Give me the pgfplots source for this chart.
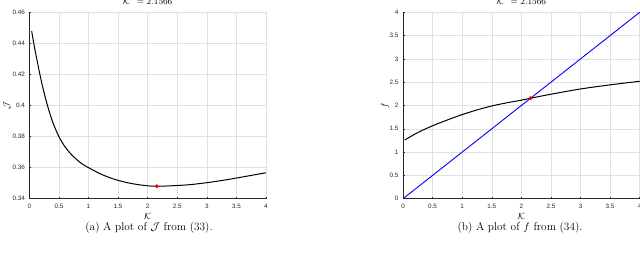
\documentclass[border=0pt]{standalone}
\usepackage{fontspec}
\usepackage{pgfplots}
\pgfplotsset{compat=1.18}
\newfontfamily\helv{Liberation Sans}
\definecolor{axgray}{gray}{0.15}
\definecolor{gridgray}{gray}{0.88}
\pgfplotsset{
  mystyle/.style={
    scale only axis, width=236.7pt, height=186.4pt,
    anchor=south west,
    axis x line*=bottom, axis y line*=left,
    axis line style={axgray, line width=0.6pt},
    tick align=inside, major tick length=2pt,
    tick style={axgray, line width=0.5pt},
    grid=major, major grid style={gridgray, line width=0.5pt},
    tick label style={font=\helv\fontsize{6.3}{7}\selectfont, text=axgray},
    /pgf/number format/assume math mode=true,
    xmin=0, xmax=4, xtick={0,0.5,...,4},
    xticklabel style={yshift=-2pt},
    yticklabel style={xshift=-1pt},
    label style={font=\small},
    title style={font=\small, at={(0.5,1)}, anchor=south, yshift=-1.5pt},
    clip=false,
  }
}
\begin{document}
\begin{tikzpicture}[x=1pt,y=1pt]
\path[use as bounding box] (0,0) rectangle (640,255);
\begin{axis}[mystyle, at={(29.3pt,56.3pt)},
  ymin=0.34, ymax=0.46, ytick={0.34,0.36,...,0.46},
  yticklabel style={/pgf/number format/fixed, /pgf/number format/precision=2},
  title={$\mathcal{K}^* = 2.1566$},
  xlabel={$\mathcal{K}$}, ylabel={$\mathcal{J}$},
  xlabel style={at={(axis description cs:0.5,-0.093)}, anchor=center},
  ylabel style={at={(axis description cs:-0.094,0.5)}, anchor=center},
]
\addplot[black, line width=1pt, smooth] coordinates {
(0.04,0.4478) (0.1,0.4350) (0.2,0.4163) (0.3,0.4009) (0.4,0.3889)
(0.5,0.3800) (0.6,0.3736) (0.7,0.3689) (0.8,0.3652) (0.9,0.3622)
(1.0,0.3600) (1.2,0.3560) (1.4,0.3530) (1.6,0.3508) (1.8,0.3493)
(2.0,0.3483) (2.1566,0.3480) (2.4,0.3483) (2.7,0.3490) (3.0,0.3503)
(3.25,0.3517) (3.5,0.3533) (3.75,0.3550) (4.0,0.3567)
};
\addplot[only marks, mark=*, red, mark size=1.8pt] coordinates {(2.1566,0.3480)};
\end{axis}
\begin{axis}[mystyle, at={(403pt,56.3pt)},
  ymin=0, ymax=4, ytick={0,0.5,...,4},
  title={$\mathcal{K}^* = 2.1566$},
  xlabel={$\mathcal{K}$}, ylabel={$f$},
  xlabel style={at={(axis description cs:0.5,-0.093)}, anchor=center},
  ylabel style={at={(axis description cs:-0.076,0.5)}, anchor=center},
]
\addplot[blue, line width=0.9pt] coordinates {(0,0) (4,4)};
\addplot[black, line width=1pt, smooth] coordinates {
(0.03,1.26) (0.25,1.42) (0.5,1.565) (0.75,1.69) (1.0,1.805) (1.25,1.905)
(1.5,1.99) (1.75,2.057) (2.0,2.114) (2.1566,2.1566) (2.5,2.242) (3.0,2.355)
(3.5,2.443) (4.0,2.52)
};
\addplot[only marks, mark=*, red, mark size=1.8pt] coordinates {(2.1566,2.1566)};
\end{axis}
\node[font=\fontsize{11.3}{13}\selectfont] at (149,27) {(a) A plot of $\mathcal{J}$ from (33).};
\node[font=\fontsize{11.3}{13}\selectfont] at (520,27) {(b) A plot of $f$ from (34).};
\end{tikzpicture}
\end{document}
